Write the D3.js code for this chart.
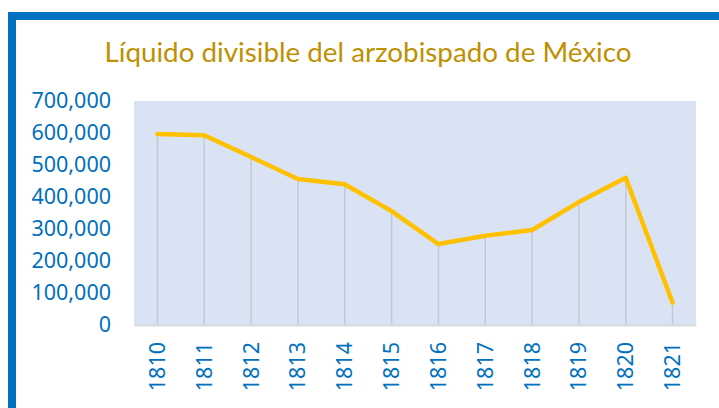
<!DOCTYPE html>
<html>
<head>
<meta charset="utf-8">
<script src="https://cdn.jsdelivr.net/npm/d3@7"></script>
<style>
  body { margin: 0; background: #fff; }
  svg { display: block; }
</style>
</head>
<body>
<div id="chart"></div>
<script>
const years = ["1810", "1811", "1812", "1813", "1814", "1815", "1816", "1817", "1818", "1819", "1820", "1821"];
const liquido = [597000, 593000, 525000, 456000, 440000, 356000, 253000, 279000, 297000, 384000, 460000, 70000];
const yTicks = [0, 100000, 200000, 300000, 400000, 500000, 600000, 700000];
const title = "Líquido divisible del arzobispado de México";

const width = 719, height = 408;
const plot = {left: 134, right: 696, top: 101, bottom: 325};

const svg = d3.select("#chart").append("svg")
  .attr("width", width)
  .attr("height", height);

// blue frame (top and left)
svg.append("rect").attr("x", 8).attr("y", 12).attr("width", width - 8).attr("height", 8).attr("fill", "#0070C0");
svg.append("rect").attr("x", 8).attr("y", 12).attr("width", 8).attr("height", height - 12).attr("fill", "#0070C0");

svg.append("text")
  .attr("x", 368)
  .attr("y", 62)
  .attr("text-anchor", "middle")
  .attr("fill", "#BF9000")
  .attr("font-family", "Lato, 'Noto Sans', sans-serif")
  .attr("font-size", 27)
  .attr("textLength", 527)
  .attr("lengthAdjust", "spacingAndGlyphs")
  .text(title);

const x = d3.scaleBand()
  .domain(years)
  .range([plot.left, plot.right]);

const y = d3.scaleLinear()
  .domain([0, 700000])
  .range([plot.bottom, plot.top]);

svg.append("rect")
  .attr("x", plot.left)
  .attr("y", plot.top)
  .attr("width", plot.right - plot.left)
  .attr("height", plot.bottom - plot.top)
  .attr("fill", "#DAE3F3");

// drop lines
svg.append("g")
  .selectAll("line")
  .data(years)
  .join("line")
  .attr("x1", d => x(d) + x.bandwidth() / 2)
  .attr("x2", d => x(d) + x.bandwidth() / 2)
  .attr("y1", (d, i) => y(liquido[i]))
  .attr("y2", plot.bottom)
  .attr("stroke", "#C3CAD4")
  .attr("stroke-width", 1.5);

// y axis
const yAxis = svg.append("g")
  .attr("transform", `translate(${plot.left},0)`)
  .call(d3.axisLeft(y).tickValues(yTicks).tickFormat(d3.format(",")).tickSize(0).tickPadding(23));
yAxis.select(".domain").remove();
yAxis.selectAll("text")
  .attr("fill", "#0070C0")
  .attr("font-family", "'Noto Sans', sans-serif")
  .attr("font-size", 21.5);

// x axis
const xAxis = svg.append("g")
  .attr("transform", `translate(0,${plot.bottom})`)
  .call(d3.axisBottom(x).tickSize(0));
xAxis.select(".domain").attr("stroke", "#D9D9D9").attr("stroke-width", 2);
xAxis.selectAll("text")
  .attr("fill", "#0070C0")
  .attr("font-family", "'Noto Sans', sans-serif")
  .attr("font-size", 21.5)
  .attr("text-anchor", "end")
  .attr("dy", "0.35em")
  .attr("transform", "translate(0,17) rotate(-90)")
  .attr("x", 0)
  .attr("y", 0);

const line = d3.line()
  .x((d, i) => x(years[i]) + x.bandwidth() / 2)
  .y(d => y(d));

svg.append("path")
  .datum(liquido)
  .attr("d", line)
  .attr("fill", "none")
  .attr("stroke", "#FFC000")
  .attr("stroke-width", 4.5)
  .attr("stroke-linejoin", "round")
  .attr("stroke-linecap", "round");
</script>
</body>
</html>
